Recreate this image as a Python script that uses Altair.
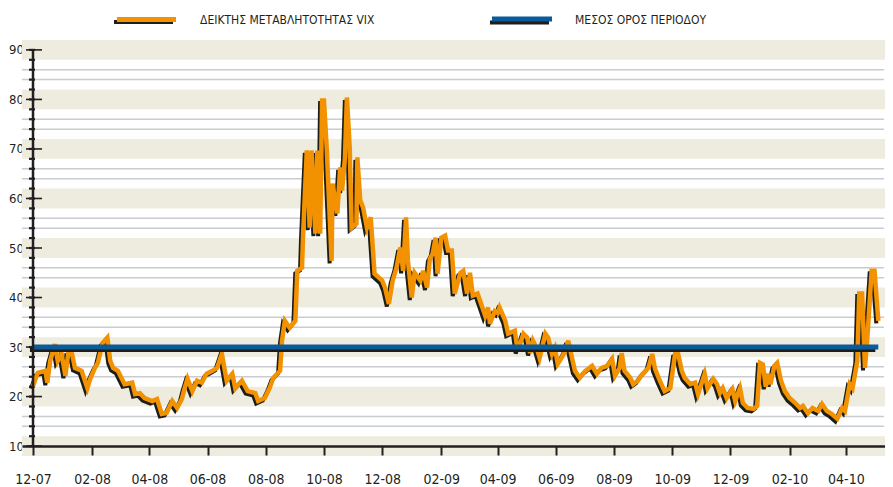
import altair as alt
import pandas as pd

# ---- data -----------------------------------------------------------------
# days after 2007-12-01 and VIX level
day_offsets = [0, 5, 13, 15, 18, 23, 26, 30, 34, 37, 41, 44, 51, 57, 60, 65, 68, 73, 78, 81,
               84, 89, 96, 104, 107, 112, 117, 125, 130, 135, 140, 146, 151, 156, 159, 162, 167, 172, 177, 182,
               188, 193, 198, 203, 209, 212, 219, 225, 233, 236, 243, 248, 252, 259, 261, 264, 269, 275, 277, 282,
               283, 287, 290, 292, 296, 298, 301, 303, 305, 308, 313, 314, 319, 322, 324, 327, 329, 332, 334, 339,
               340, 343, 346, 350, 354, 358, 366, 369, 373, 377, 381, 385, 388, 391, 393, 397, 400, 406, 409, 413,
               416, 419, 422, 424, 428, 432, 435, 439, 442, 448, 451, 455, 458, 461, 466, 471, 474, 477, 479, 484,
               487, 489, 495, 498, 505, 508, 514, 518, 521, 524, 528, 531, 537, 540, 544, 547, 550, 554, 558, 561,
               565, 568, 573, 579, 586, 591, 596, 602, 607, 610, 615, 617, 620, 626, 629, 634, 639, 645, 649, 652,
               657, 662, 668, 673, 676, 680, 683, 689, 694, 697, 704, 707, 713, 717, 720, 723, 727, 733, 736, 741,
               744, 749, 755, 759, 762, 765, 768, 771, 773, 777, 780, 784, 788, 793, 799, 804, 807, 812, 817, 823,
               827, 832, 837, 843, 848, 851, 856, 859, 864, 866, 869, 872, 875, 879, 882, 886]
vix_values = [22.1, 24.8, 25.2, 22.8, 27.2, 30.6, 27.2, 28.6, 24.2, 28.8, 28.6, 25.8, 25.2, 21.7, 23.6, 25.8, 26.8, 30.8, 31.9, 27.2,
              25.8, 25.2, 22.5, 22.8, 20.5, 20.7, 19.7, 19.1, 19.5, 16.5, 16.7, 19.1, 17.7, 19.5, 21.7, 23.6, 21.1, 23.2, 22.8, 24.6,
              25.2, 25.8, 28.6, 23.2, 24.6, 21.7, 23.2, 21.1, 20.7, 19.1, 19.7, 21.7, 23.8, 25.2, 31.3, 35.3, 33.9, 35.3, 45.4, 46.0,
              52.1, 69.7, 54.1, 69.7, 52.9, 69.7, 52.9, 79.8, 79.8, 69.7, 47.4, 63.0, 57.0, 66.3, 61.6, 68.3, 80.4, 70.3, 54.1, 54.9,
              68.3, 59.6, 58.2, 54.1, 56.2, 44.8, 43.4, 42.0, 38.7, 43.4, 46.0, 50.1, 45.4, 56.2, 47.4, 40.0, 45.0, 43.4, 45.4, 42.0,
              47.8, 48.9, 52.1, 44.8, 52.1, 52.5, 49.5, 49.5, 40.8, 45.0, 45.4, 40.8, 45.0, 40.4, 40.8, 38.0, 36.3, 38.0, 34.7, 37.3,
              36.9, 38.0, 35.3, 32.7, 33.3, 29.2, 32.7, 31.9, 28.8, 31.3, 29.8, 27.8, 32.7, 31.9, 28.6, 29.8, 26.6, 27.8, 29.2, 31.3,
              27.8, 25.2, 23.8, 25.2, 26.2, 24.6, 25.8, 26.2, 27.6, 24.2, 25.8, 28.8, 25.2, 23.8, 22.5, 23.2, 24.6, 25.8, 28.6, 25.6,
              23.2, 21.1, 21.7, 28.6, 28.8, 25.2, 23.8, 22.5, 22.8, 20.5, 24.6, 21.7, 23.6, 22.5, 20.7, 21.7, 19.7, 21.5, 19.1, 21.7,
              18.7, 17.7, 17.5, 18.1, 26.8, 26.5, 22.0, 24.6, 22.5, 26.2, 26.8, 23.2, 21.1, 19.7, 18.7, 17.7, 18.1, 16.7, 17.7, 17.1,
              18.5, 17.1, 16.5, 15.5, 17.7, 17.1, 22.5, 21.7, 27.2, 40.8, 40.8, 25.8, 33.3, 45.4, 45.4, 35.3]
mean_level = 30.0
mean_days = [0, 886]

x_tick_dates = ["2007-12-01", "2008-02-01", "2008-04-01", "2008-06-01", "2008-08-01",
                "2008-10-01", "2008-12-01", "2009-02-01", "2009-04-01", "2009-06-01",
                "2009-08-01", "2009-10-01", "2009-12-01", "2010-02-01", "2010-04-01"]
y_major = [10, 20, 30, 40, 50, 60, 70, 80, 90]
y_minor = list(range(10, 91, 2))
grid_levels = [14, 16, 24, 26, 34, 36, 44, 46, 54, 56, 64, 66, 74, 76, 84, 86]
legend_labels = ["ΔΕΙΚΤΗΣ ΜΕΤΑΒΛΗΤΟΤΗΤΑΣ VIX", "ΜΕΣΟΣ ΟΡΟΣ ΠΕΡΙΟΔΟΥ"]

# ---- styling ---------------------------------------------------------------
FONT = "Liberation Sans Narrow, DejaVu Sans Condensed, Arial Narrow, sans-serif"
INK = "#231f20"
ORANGE = "#f39200"
BLUE = "#0b5a9a"
BAND = "#eeebdf"
GRID = "#c9ccd0"
W, H = 863, 416

start = pd.Timestamp("2007-12-01")
vix_df = pd.DataFrame({"date": start + pd.to_timedelta(day_offsets, unit="D"), "vix": vix_values})
mean_df = pd.DataFrame({"date": start + pd.to_timedelta(mean_days, unit="D"),
                        "vix": [mean_level] * len(mean_days)})

xvals = [alt.DateTime(year=int(s[:4]), month=int(s[5:7]), date=int(s[8:10])) for s in x_tick_dates]
xscale = alt.Scale(domain=[alt.DateTime(year=2007, month=11, date=19, hours=12),
                           alt.DateTime(year=2010, month=5, date=12)])
yscale = alt.Scale(domain=[8, 92], nice=False, zero=False)

yaxis = alt.Axis(values=y_major, ticks=False, domain=False, grid=False, labelPadding=13.5,
                 labelAlign="left", labelFontSize=13, labelFont=FONT, labelColor=INK, title=None)
xaxis = alt.Axis(values=xvals, format="%m-%y", offset=-10, zindex=1, grid=False, title=None,
                 domainColor=INK, domainWidth=2.5, tickColor=INK, tickWidth=2, tickSize=9,
                 labelFontSize=14, labelFont=FONT, labelColor=INK, labelPadding=17,
                 labelFlush=False, labelOverlap=False)


def Y(field):
    return alt.Y(field, scale=yscale, axis=yaxis)


def X(field):
    return alt.X(field, scale=xscale, axis=xaxis)


one = pd.DataFrame({"k": [0]})

bands = alt.Chart(pd.DataFrame({"c": y_major})).transform_calculate(
    lo="datum.c - 2", hi="datum.c + 2"
).mark_rect(color=BAND).encode(
    x=alt.value(0), x2=alt.value(W),
    y=Y("lo:Q"), y2="hi:Q")

grid = alt.Chart(pd.DataFrame({"g": grid_levels})).mark_rule(color=GRID, strokeWidth=1.5).encode(
    y=Y("g:Q"), x=alt.value(0), x2=alt.value(W - 1))

major_ticks = alt.Chart(pd.DataFrame({"t": y_major})).mark_rule(color=INK, strokeWidth=1.6).encode(
    y=Y("t:Q"), x=alt.value(4), x2=alt.value(20))

minor_ticks = alt.Chart(pd.DataFrame({"t": y_minor})).mark_rule(color=INK, strokeWidth=2.2).encode(
    y=Y("t:Q"), x=alt.value(7), x2=alt.value(13))

y_domain = alt.Chart(pd.DataFrame({"lo": [y_major[0]], "hi": [y_major[-1]]})).mark_rule(
    color=INK, strokeWidth=2.5).encode(x=alt.value(11), y=Y("lo:Q"), y2="hi:Q")

vix_shadow = alt.Chart(vix_df).mark_line(color="#1d1d1b", strokeWidth=4, xOffset=-2, yOffset=2.5).encode(
    x=X("date:T"), y=Y("vix:Q"))
vix_line = alt.Chart(vix_df).mark_line(color=ORANGE, strokeWidth=4.5).encode(
    x=X("date:T"), y=Y("vix:Q"))

mean_shadow = alt.Chart(mean_df).mark_line(color="#1d1d1b", strokeWidth=4, xOffset=-3, yOffset=3,
                                           strokeCap="butt").encode(x=X("date:T"), y=Y("vix:Q"))
mean_line = alt.Chart(mean_df).mark_line(color=BLUE, strokeWidth=5, strokeCap="butt").encode(
    x=X("date:T"), y=Y("vix:Q"))

# legend (drawn as swatches + text above the plot)
leg1_sh = alt.Chart(one).mark_rule(color="#1d1d1b", strokeWidth=4).encode(
    x=alt.value(92), x2=alt.value(151), y=alt.value(-18))
leg1_sw = alt.Chart(one).mark_rule(color=ORANGE, strokeWidth=5).encode(
    x=alt.value(95), x2=alt.value(154), y=alt.value(-20.5))
leg1_tx = alt.Chart(pd.DataFrame({"label": [legend_labels[0]]})).mark_text(
    font=FONT, fontSize=12, color=INK, align="left", baseline="middle").encode(
    text="label:N", x=alt.value(178), y=alt.value(-20))
leg2_sh = alt.Chart(one).mark_rule(color="#1d1d1b", strokeWidth=4).encode(
    x=alt.value(468), x2=alt.value(527), y=alt.value(-17.5))
leg2_sw = alt.Chart(one).mark_rule(color=BLUE, strokeWidth=5).encode(
    x=alt.value(470), x2=alt.value(530), y=alt.value(-21))
leg2_tx = alt.Chart(pd.DataFrame({"label": [legend_labels[1]]})).mark_text(
    font=FONT, fontSize=12, color=INK, align="left", baseline="middle").encode(
    text="label:N", x=alt.value(553), y=alt.value(-20))

chart = alt.layer(
    bands, grid, minor_ticks, major_ticks, vix_shadow, vix_line, mean_shadow, mean_line, y_domain,
    leg1_sh, leg1_sw, leg1_tx, leg2_sh, leg2_sw, leg2_tx
).properties(
    width=W, height=H,
    autosize=alt.AutoSizeParams(type="none"),
    padding={"left": 14, "top": 32, "right": 0, "bottom": 31},
    background="white",
).configure_view(stroke=None)

chart.save("out.html", embed_options={"renderer": "svg", "actions": False})
